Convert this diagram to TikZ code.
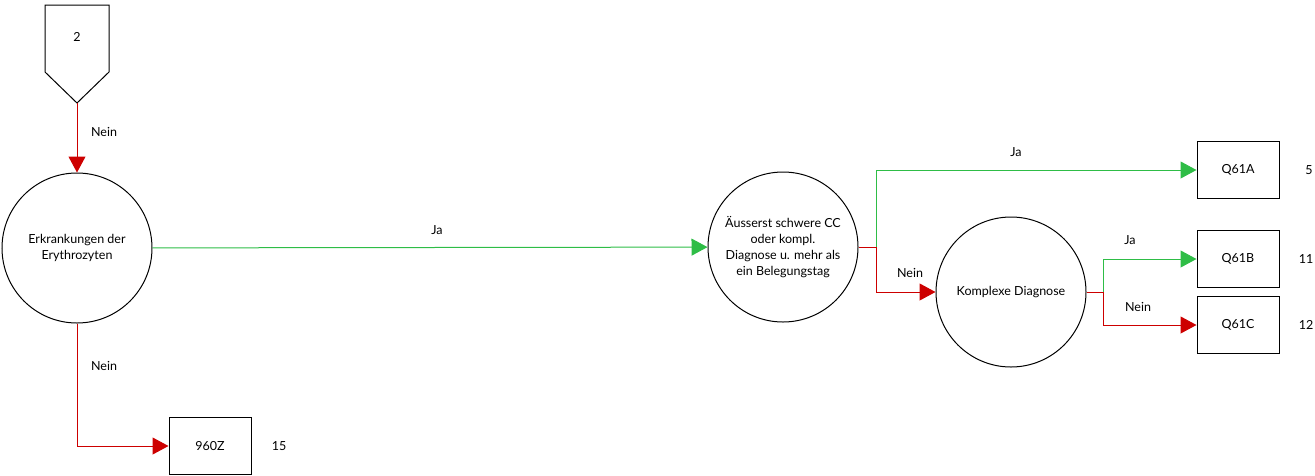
\documentclass[tikz,border=0pt]{standalone}
\usepackage{fontspec}
\setmainfont{Lato}
\usetikzlibrary{arrows.meta}
\definecolor{jagreen}{RGB}{46,189,70}
\definecolor{neinred}{RGB}{205,0,0}
\tikzset{
  entscheid/.style={draw, circle, line width=1pt, minimum size=150pt, inner sep=0pt, align=center, font=\fontsize{12.5}{16}\selectfont},
  drg/.style={draw, line width=1pt, minimum width=82pt, minimum height=57pt, font=\fontsize{12.5}{16}\selectfont},
  lbl/.style={font=\fontsize{12.5}{16}\selectfont},
  ja/.style={draw=jagreen, line width=1pt, -{Triangle[length=16pt,width=17pt]}, color=jagreen},
  nein/.style={draw=neinred, line width=1pt, -{Triangle[length=16pt,width=17pt]}, color=neinred}
}
\begin{document}
\begin{tikzpicture}[x=1pt, y=-1pt]

    \useasboundingbox (0,0) rectangle (1315,475);

    % Einstieg
    \draw[line width=1pt] (45,5) -- (109,5) -- (109,72) -- (77,103) -- (45,72) -- cycle;
    \node[lbl] (start) at (77,37) {2};
    \coordinate (starttip) at (77,103);

    % Entscheidungen
    \node[entscheid] (erythro) at (77,248) {Erkrankungen der\\Erythrozyten};
    \node[entscheid] (schwer) at (783,247) {Äusserst schwere CC\\oder kompl.\\Diagnose u. mehr als\\ein Belegungstag};
    \node[entscheid] (komplex) at (1011,292) {Komplexe Diagnose};

    % DRGs
    \node[drg] (z960) at (210,446) {960Z};
    \node[drg] (qa) at (1238,170) {Q61A};
    \node[drg] (qb) at (1238,259) {Q61B};
    \node[drg] (qc) at (1238,325) {Q61C};
    \node[lbl] (nz) at (279,446) {15};
    \node[lbl] (na) at (1309,170) {5};
    \node[lbl] (nb) at (1306,259) {11};
    \node[lbl] (nc) at (1306,325) {12};

    % Verbindungen
    \coordinate (j1) at (876,247);
    \coordinate (j2) at (1103,292);
    \draw[nein] (starttip) -- (erythro);
    \node[lbl] at (104,132) {Nein};
    \draw[ja] (erythro) -- (schwer);
    \node[lbl] at (437,230) {Ja};
    \draw[nein] (erythro) |- (z960);
    \node[lbl] at (104,366) {Nein};
    \draw[ja] (schwer.east) -- (j1) |- (qa);
    \node[lbl] at (1016,152) {Ja};
    \draw[nein] (schwer.east) -- (j1) |- (komplex);
    \node[lbl] at (910,273) {Nein};
    \draw[ja] (komplex.east) -- (j2) |- (qb);
    \node[lbl] at (1130,240) {Ja};
    \draw[nein] (komplex.east) -- (j2) |- (qc);
    \node[lbl] at (1138,307) {Nein};

  \end{tikzpicture}
\end{document}
